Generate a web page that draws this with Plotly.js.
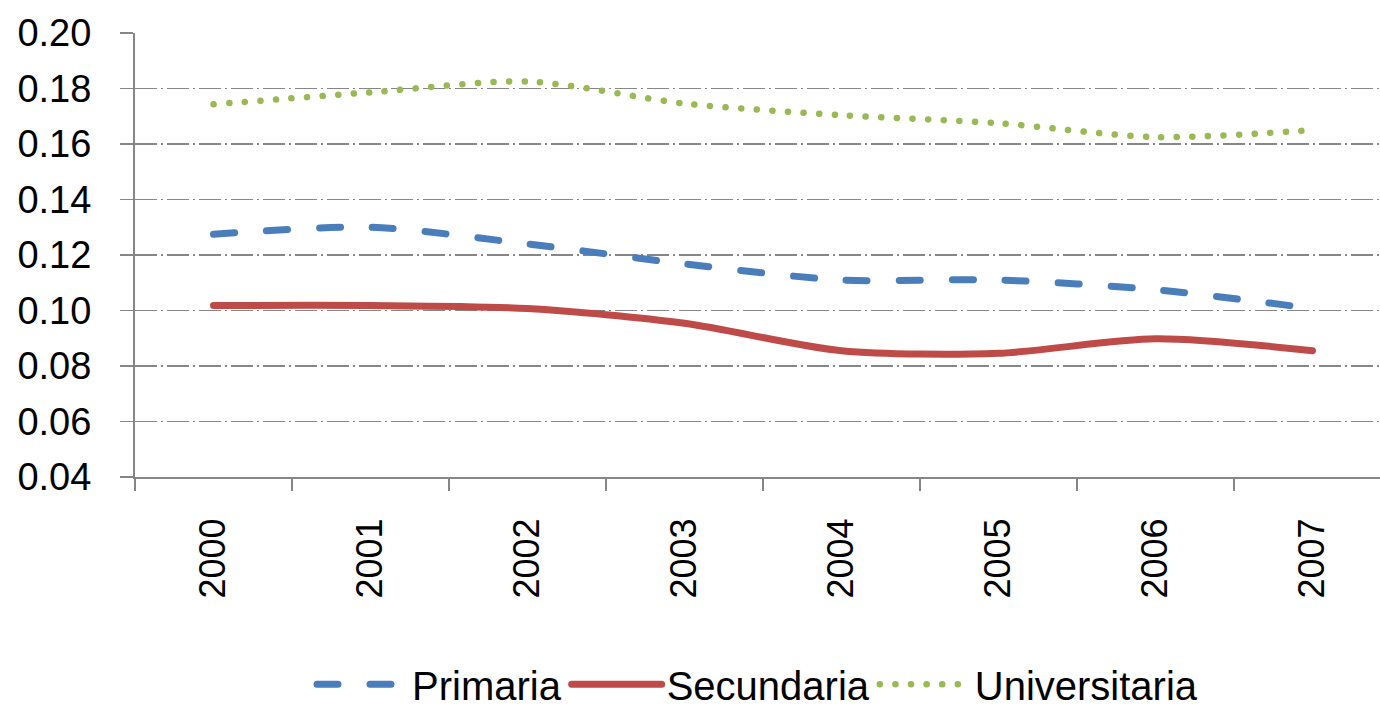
<!DOCTYPE html>
<html>
<head>
<meta charset="utf-8">
<script src="https://cdn.plot.ly/plotly-3.0.1.min.js"></script>
<style>
html, body { margin: 0; padding: 0; background: #fff; overflow: hidden; }
#chart { width: 1380px; height: 717px; }
.scatterlayer .js-line, .legend .js-line { stroke-linecap: round; }
</style>
</head>
<body>
<div id="chart"></div>
<script>
const years = ["2000", "2001", "2002", "2003", "2004", "2005", "2006", "2007"];
const primaria = [0.1275, 0.1300, 0.1240, 0.1168, 0.1110, 0.1110, 0.1075, 0.1007];
const secundaria = [0.1018, 0.1018, 0.1007, 0.0954, 0.0855, 0.0846, 0.0898, 0.0855];
const universitaria = [0.1743, 0.1786, 0.1825, 0.1746, 0.1704, 0.1675, 0.1625, 0.1650];
const yTicks = [0.04, 0.06, 0.08, 0.10, 0.12, 0.14, 0.16, 0.18, 0.20];
const seriesNames = ["Primaria", "Secundaria", "Universitaria"];

const FONT = '"Liberation Sans", Arial, sans-serif';
const gridDash = "22px,4px,2px,4px";

const traces = [
  { x: years, y: primaria, name: seriesNames[0], type: "scatter", mode: "lines",
    line: { color: "#4a7ebb", width: 7, dash: "21px,32px", shape: "spline", smoothing: 0.8 } },
  { x: years, y: secundaria, name: seriesNames[1], type: "scatter", mode: "lines",
    line: { color: "#be4b48", width: 7, shape: "spline", smoothing: 0.8 } },
  { x: years, y: universitaria, name: seriesNames[2], type: "scatter", mode: "lines",
    line: { color: "#98b954", width: 6.5, dash: "0.1px,15.5px", shape: "spline", smoothing: 0.8 } }
];

const layout = {
  width: 1380, height: 717,
  margin: { l: 135, r: 0, t: 33, b: 236 },
  paper_bgcolor: "#fff", plot_bgcolor: "#fff",
  font: { family: FONT, size: 38, color: "#000" },
  showlegend: true,
  legend: { orientation: "h", x: 0.5, xanchor: "center", y: -0.4665, yanchor: "middle",
            font: { family: FONT, size: 40, color: "#000" }, itemwidth: 90 },
  xaxis: {
    type: "category", range: [-0.5, 7.43], automargin: false,
    showgrid: false, zeroline: false,
    showline: true, linecolor: "#868686", linewidth: 2,
    ticks: "outside", tickson: "boundaries", ticklen: 12, tickcolor: "#868686", tickwidth: 2,
    tickangle: -90, ticklabelstandoff: 25,
    tickfont: { family: FONT, size: 36, color: "#000" }
  },
  yaxis: {
    range: [0.04, 0.20], tickvals: yTicks, tickformat: ".2f", automargin: false,
    showgrid: true, gridcolor: "#868686", gridwidth: 1.5, griddash: gridDash,
    zeroline: false,
    showline: true, linecolor: "#868686", linewidth: 2,
    ticks: "outside", ticklen: 13, tickcolor: "#868686", tickwidth: 1.5,
    ticklabelstandoff: 21,
    tickfont: { family: FONT, size: 38, color: "#000" }
  }
};

Plotly.newPlot("chart", traces, layout, { staticPlot: true, displayModeBar: false });
</script>
</body>
</html>
